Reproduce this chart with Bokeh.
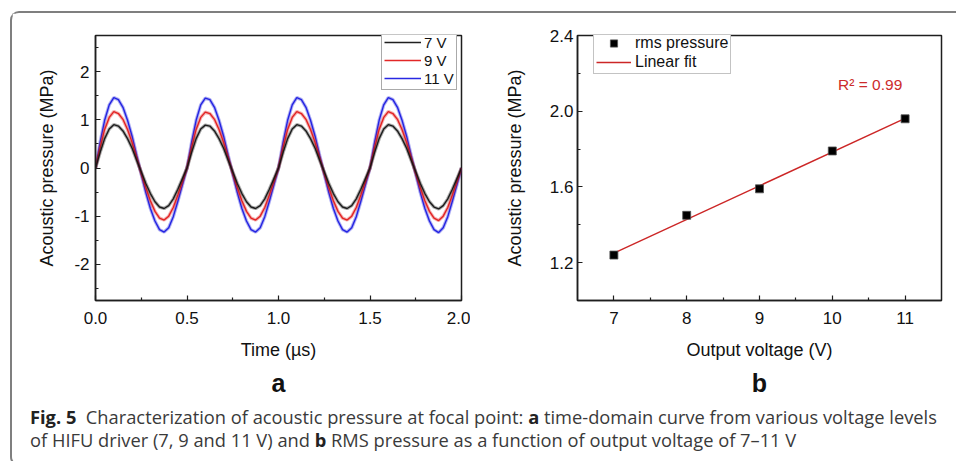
import numpy as np
from bokeh.plotting import figure
from bokeh.models import (FixedTicker, PrintfTickFormatter, Legend, LegendItem,
                          Title, Label, Div, Range1d)
from bokeh.layouts import row, column
from bokeh.embed import file_html
from bokeh.resources import INLINE

# ---------------- data ----------------
TIME_US = [
    0.000, 0.025, 0.050, 0.075, 0.100, 0.125, 0.150, 0.175, 0.200, 0.225,
    0.250, 0.275, 0.300, 0.325, 0.350, 0.375, 0.400, 0.425, 0.450, 0.475,
    0.500, 0.525, 0.550, 0.575, 0.600, 0.625, 0.650, 0.675, 0.700, 0.725,
    0.750, 0.775, 0.800, 0.825, 0.850, 0.875, 0.900, 0.925, 0.950, 0.975,
    1.000, 1.025, 1.050, 1.075, 1.100, 1.125, 1.150, 1.175, 1.200, 1.225,
    1.250, 1.275, 1.300, 1.325, 1.350, 1.375, 1.400, 1.425, 1.450, 1.475,
    1.500, 1.525, 1.550, 1.575, 1.600, 1.625, 1.650, 1.675, 1.700, 1.725,
    1.750, 1.775, 1.800, 1.825, 1.850, 1.875, 1.900, 1.925, 1.950, 1.975,
    2.000,
]
P_7V = [
    0.00, 0.32, 0.61, 0.81, 0.90, 0.87, 0.77, 0.61, 0.41, 0.16,
    -0.08, -0.32, -0.53, -0.70, -0.81, -0.84, -0.78, -0.64, -0.44, -0.22,
    0.00, 0.32, 0.61, 0.81, 0.89, 0.87, 0.77, 0.61, 0.41, 0.16,
    -0.08, -0.32, -0.53, -0.70, -0.81, -0.84, -0.78, -0.64, -0.44, -0.22,
    0.00, 0.32, 0.61, 0.81, 0.90, 0.87, 0.77, 0.61, 0.41, 0.16,
    -0.08, -0.32, -0.53, -0.70, -0.81, -0.84, -0.78, -0.64, -0.44, -0.22,
    0.00, 0.32, 0.61, 0.81, 0.90, 0.87, 0.77, 0.61, 0.41, 0.16,
    -0.08, -0.32, -0.53, -0.70, -0.81, -0.85, -0.78, -0.64, -0.44, -0.22,
    0.00,
]
P_9V = [
    0.00, 0.42, 0.80, 1.05, 1.17, 1.13, 1.01, 0.80, 0.53, 0.21,
    -0.11, -0.41, -0.68, -0.90, -1.04, -1.08, -1.00, -0.82, -0.56, -0.28,
    0.00, 0.42, 0.80, 1.05, 1.16, 1.13, 1.01, 0.80, 0.53, 0.21,
    -0.11, -0.41, -0.68, -0.90, -1.04, -1.08, -1.00, -0.82, -0.56, -0.28,
    0.00, 0.42, 0.80, 1.05, 1.17, 1.13, 1.01, 0.80, 0.53, 0.21,
    -0.11, -0.41, -0.68, -0.90, -1.04, -1.08, -1.00, -0.82, -0.56, -0.28,
    0.00, 0.42, 0.80, 1.05, 1.17, 1.13, 1.01, 0.80, 0.53, 0.21,
    -0.11, -0.41, -0.68, -0.90, -1.04, -1.09, -1.00, -0.82, -0.56, -0.28,
    0.00,
]
P_11V = [
    0.00, 0.53, 0.99, 1.31, 1.46, 1.42, 1.26, 0.99, 0.66, 0.26,
    -0.13, -0.51, -0.84, -1.10, -1.28, -1.33, -1.24, -1.01, -0.69, -0.35,
    0.00, 0.53, 0.99, 1.31, 1.45, 1.42, 1.26, 0.99, 0.66, 0.26,
    -0.13, -0.51, -0.84, -1.10, -1.28, -1.33, -1.24, -1.01, -0.69, -0.35,
    0.00, 0.53, 0.99, 1.31, 1.46, 1.42, 1.26, 0.99, 0.66, 0.26,
    -0.13, -0.51, -0.84, -1.10, -1.28, -1.33, -1.24, -1.01, -0.69, -0.35,
    0.00, 0.53, 0.99, 1.31, 1.46, 1.42, 1.26, 0.99, 0.66, 0.26,
    -0.13, -0.51, -0.84, -1.10, -1.28, -1.34, -1.24, -1.01, -0.69, -0.35,
    0.00,
]
SERIES_LABELS = ["7 V", "9 V", "11 V"]
SERIES_COLORS = ["#141414", "#e01b1b", "#1c1ce0"]

VOLTAGE_V = [7, 8, 9, 10, 11]
RMS_MPA = [1.24, 1.45, 1.59, 1.79, 1.96]
R2_TEXT = "R\u00b2 = 0.99"

A_XTICKS = [0.0, 0.5, 1.0, 1.5, 2.0]
A_XMINOR = [0.25, 0.75, 1.25, 1.75]
A_YTICKS = [-2, -1, 0, 1, 2]
A_YMINOR = [-2.5, -1.5, -0.5, 0.5, 1.5, 2.5]
B_XTICKS = [7, 8, 9, 10, 11]
B_XMINOR = [7.5, 8.5, 9.5, 10.5]
B_YTICKS = [1.2, 1.6, 2.0, 2.4]
B_YMINOR = [1.4, 1.8, 2.2]

FONT = "Liberation Sans"
INK = "#1e1e1e"


def style(p, xt, xm, yt, ym, xfmt, yfmt, ytick_standoff, ylab_standoff):
    p.grid.visible = False
    p.outline_line_color = INK
    p.outline_line_width = 1.5
    p.background_fill_color = "white"
    p.border_fill_color = "white"
    p.xaxis.ticker = FixedTicker(ticks=xt, minor_ticks=xm)
    p.yaxis.ticker = FixedTicker(ticks=yt, minor_ticks=ym)
    p.xaxis.formatter = PrintfTickFormatter(format=xfmt)
    p.yaxis.formatter = PrintfTickFormatter(format=yfmt)
    for ax in (p.xaxis[0], p.yaxis[0]):
        ax.axis_line_color = INK
        ax.axis_line_width = 1.5
        ax.major_tick_in = 5
        ax.major_tick_out = 0
        ax.minor_tick_in = 3
        ax.minor_tick_out = 0
        ax.major_tick_line_color = INK
        ax.minor_tick_line_color = INK
        ax.major_tick_line_width = 1.2
        ax.minor_tick_line_width = 1.2
        ax.major_label_text_font = FONT
        ax.major_label_text_font_size = "17px"
        ax.major_label_text_color = "#111111"
        ax.axis_label_text_font = FONT
        ax.axis_label_text_font_size = "18px"
        ax.axis_label_text_font_style = "normal"
        ax.axis_label_text_color = "#111111"
    p.xaxis.major_label_standoff = 11
    p.xaxis.axis_label_standoff = 13
    p.yaxis.major_label_standoff = ytick_standoff
    p.yaxis.axis_label_standoff = ylab_standoff


# ---------------- panel a ----------------
pa = figure(width=458, height=387, output_backend="svg", toolbar_location=None,
            x_range=Range1d(0, 2), y_range=Range1d(-2.75, 2.75),
            min_border_left=83, min_border_right=9, min_border_top=21,
            min_border_bottom=95,
            x_axis_label="Time (\u00b5s)", y_axis_label="Acoustic pressure (MPa)")
style(pa, A_XTICKS, A_XMINOR, A_YTICKS, A_YMINOR, "%.1f", "%d", 6, 14)

series = list(zip(SERIES_LABELS, [P_7V, P_9V, P_11V], SERIES_COLORS))
core = {}
# draw 11 V first, 7 V last (on top), each as a soft band plus a thin core line
for lab, vals, col in reversed(series):
    pa.line(TIME_US, vals, line_color=col, line_width=3.4, line_alpha=0.35)
    core[lab] = pa.line(TIME_US, vals, line_color=col, line_width=1.4, line_alpha=0.95)
legend_a = Legend(
    items=[LegendItem(label=lab, renderers=[core[lab]]) for lab in SERIES_LABELS],
    location=(286, 210), margin=0, padding=2, spacing=0,
    glyph_width=37, glyph_height=18, label_height=18, label_standoff=3,
    label_text_font=FONT, label_text_font_size="15px", label_text_color="#111111",
    border_line_color="#555555", border_line_width=1, background_fill_alpha=1)
pa.add_layout(legend_a)
pa.add_layout(Title(text="a", align="center", text_font=FONT, text_font_size="25px",
                    text_font_style="bold", text_color="#111111", standoff=8), "below")

# ---------------- panel b ----------------
pb = figure(width=484, height=387, output_backend="svg", toolbar_location=None,
            x_range=Range1d(6.5, 11.5), y_range=Range1d(1.0, 2.4),
            min_border_left=107, min_border_right=13, min_border_top=22,
            min_border_bottom=94,
            x_axis_label="Output voltage (V)", y_axis_label="Acoustic pressure (MPa)")
style(pb, B_XTICKS, B_XMINOR, B_YTICKS, B_YMINOR, "%d", "%.1f", 4, 22)

slope, icpt = np.polyfit(VOLTAGE_V, RMS_MPA, 1)
fit_x = [VOLTAGE_V[0], VOLTAGE_V[-1]]
fit_y = [slope * v + icpt for v in fit_x]
r_fit = pb.line(fit_x, fit_y, line_color="#cc2626", line_width=1.4)
r_pts = pb.scatter(VOLTAGE_V, RMS_MPA, marker="square", size=8, fill_color="black",
                   line_color="#555555", line_width=0.8)
legend_b = Legend(
    items=[LegendItem(label="rms pressure", renderers=[r_pts]),
           LegendItem(label="Linear fit", renderers=[r_fit])],
    location=(16, 226), margin=0, padding=2, spacing=1,
    glyph_width=35, glyph_height=18, label_height=18, label_standoff=4,
    label_text_font=FONT, label_text_font_size="16px", label_text_color="#111111",
    border_line_color="#888888", border_line_width=1, background_fill_alpha=1)
pb.add_layout(legend_b)
pb.add_layout(Label(x=10.52, y=2.142, text=R2_TEXT, text_align="center",
                    text_baseline="middle", text_font=FONT, text_font_size="15.5px",
                    text_color="#cc2b2b"))
pb.add_layout(Title(text="b", align="center", text_font=FONT, text_font_size="25px",
                    text_font_style="bold", text_color="#111111", standoff=8), "below")

caption = Div(
    text=("<div style=\"font-family:'Open Sans';font-size:18.3px;line-height:23px;"
          "color:#3a3a3a;white-space:nowrap;padding:0 0 0 13px;\">"
          "<b style='color:#222'>Fig. 5</b>&nbsp; Characterization of acoustic pressure at focal point: "
          "<b style='color:#222'>a</b> time-domain curve from various voltage levels<br>"
          "of HIFU driver (7, 9 and 11 V) and <b style='color:#222'>b</b> RMS pressure as a "
          "function of output voltage of 7\u201311 V</div>"),
    width=940, height=54)

layout = column(row(pa, pb), caption,
                styles={"position": "relative", "top": "11px", "left": "10px",
                        "border": "2px solid #7f7f7f", "border-right": "none",
                        "border-radius": "9px 0 0 9px", "background": "white"})

open("out.html", "w").write(file_html(layout, INLINE))
